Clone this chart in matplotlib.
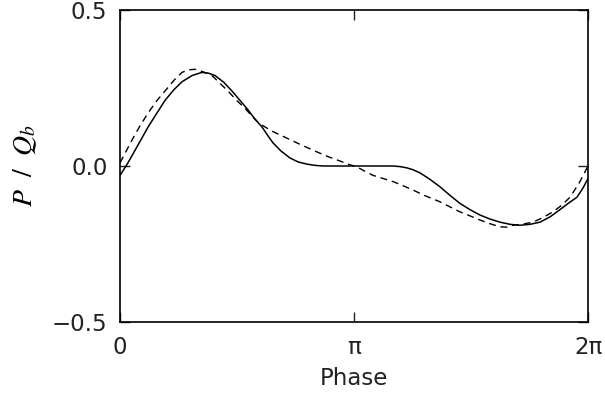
import numpy as np
import matplotlib
matplotlib.use("Agg")
import matplotlib.pyplot as plt

# phase in units of pi
solid_phase = [0.000, 0.030, 0.064, 0.094, 0.120, 0.158, 0.192, 0.231, 0.265, 0.308,
               0.350, 0.376, 0.406, 0.444, 0.479, 0.513, 0.547, 0.577, 0.607, 0.632,
               0.654, 0.688, 0.726, 0.761, 0.799, 0.833, 0.868, 1.000, 1.167, 1.197,
               1.226, 1.252, 1.282, 1.325, 1.368, 1.410, 1.453, 1.496, 1.538, 1.581,
               1.624, 1.667, 1.709, 1.752, 1.795, 1.838, 1.880, 1.915, 1.953, 1.979, 2.000]
solid_val = [-0.03, 0.005, 0.05, 0.09, 0.125, 0.17, 0.21, 0.245, 0.27, 0.29,
             0.30, 0.298, 0.29, 0.268, 0.24, 0.21, 0.18, 0.15, 0.125, 0.097,
             0.074, 0.048, 0.026, 0.013, 0.006, 0.002, 0.0, 0.0, 0.0, -0.002,
             -0.006, -0.012, -0.022, -0.043, -0.067, -0.094, -0.12, -0.14, -0.157, -0.17,
             -0.18, -0.187, -0.19, -0.187, -0.18, -0.163, -0.14, -0.12, -0.10, -0.07, -0.04]

dash_phase = [0.000, 0.026, 0.051, 0.085, 0.120, 0.158, 0.192, 0.231, 0.265, 0.291,
              0.321, 0.355, 0.393, 0.427, 0.462, 0.496, 0.534, 0.564, 0.590, 0.620,
              0.654, 0.697, 0.739, 0.791, 0.842, 0.889, 0.940, 0.974, 1.013, 1.047,
              1.081, 1.124, 1.167, 1.209, 1.252, 1.303, 1.368, 1.410, 1.453, 1.496,
              1.538, 1.581, 1.624, 1.654, 1.679, 1.722, 1.765, 1.808, 1.850, 1.889,
              1.923, 1.962, 2.000]
dash_val = [0.01, 0.047, 0.083, 0.128, 0.17, 0.21, 0.24, 0.275, 0.30, 0.308,
            0.31, 0.302, 0.29, 0.265, 0.24, 0.212, 0.185, 0.16, 0.14, 0.125,
            0.11, 0.095, 0.08, 0.062, 0.045, 0.03, 0.016, 0.006, -0.003, -0.017,
            -0.03, -0.04, -0.05, -0.063, -0.077, -0.095, -0.115, -0.131, -0.147, -0.16,
            -0.173, -0.185, -0.195, -0.196, -0.19, -0.186, -0.18, -0.165, -0.147, -0.125,
            -0.10, -0.055, 0.0]

xtick_vals = [0, np.pi, 2 * np.pi]
xtick_labels = ['0', 'π', '2π']
ytick_vals = [-0.5, 0.0, 0.5]
ytick_labels = ['−0.5', '0.0', '0.5']

plt.rcParams['mathtext.fontset'] = 'stix'

fig = plt.figure(figsize=(6.05, 3.99), dpi=100)
ax = fig.add_axes([120 / 605, 1 - 322 / 399, 468 / 605, 312 / 399])

ax.plot(np.array(solid_phase) * np.pi, solid_val, color='black', lw=1.1)
ax.plot(np.array(dash_phase) * np.pi, dash_val, color='black', lw=1.0, dashes=(5, 3.5))

ax.set_xlim(0, 2 * np.pi)
ax.set_ylim(-0.5, 0.5)
ax.set_xticks(xtick_vals)
ax.set_xticklabels(xtick_labels)
ax.set_yticks(ytick_vals)
ax.set_yticklabels(ytick_labels)
ax.tick_params(direction='in', length=7, width=1, top=True, right=True,
               labelsize=16.5, colors='#222222', pad=9)
ax.tick_params(axis='x', pad=10)
for s in ax.spines.values():
    s.set_linewidth(1.2)

ax.set_xlabel('Phase', fontsize=16.5, labelpad=6, color='#222222')
fig.text(25 / 605, 1 - 166 / 399, r'$P\ \ /\ \ Q_b$', fontsize=20,
         rotation=90, ha='center', va='center')

fig.savefig('out.png', dpi=100)
